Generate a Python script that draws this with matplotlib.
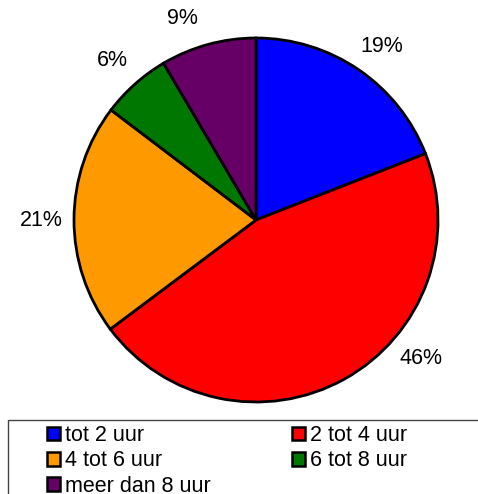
import numpy as np
import matplotlib.pyplot as plt
from matplotlib.patches import Patch, Rectangle

plt.rcParams['font.family'] = ['Liberation Sans', 'DejaVu Sans']

categories = ["tot 2 uur", "2 tot 4 uur", "4 tot 6 uur", "6 tot 8 uur", "meer dan 8 uur"]
shares = [19.1, 45.8, 20.6, 6.2, 8.5]
pct_labels = ["19%", "46%", "21%", "6%", "9%"]
colors = ["#0000FF", "#FF0000", "#FF9900", "#007700", "#660066"]
# where each percentage sits, degrees clockwise from 12 o'clock
label_angles = [36, 130, 270, 318, 340]

W, H = 478, 494
fig = plt.figure(figsize=(W / 100, H / 100), dpi=100)

# pie centre (256, 220) px from top-left, radius 182 px
cx, cy, r = 256, 220, 182
ax = fig.add_axes([(cx - r) / W, (H - cy - r) / H, 2 * r / W, 2 * r / H])
ax.pie(shares, colors=colors, startangle=90, counterclock=False,
       wedgeprops=dict(edgecolor="black", linewidth=2))
ax.set_xlim(-1, 1)
ax.set_ylim(-1, 1)
ax.set_aspect("equal")

for ang, lab in zip(label_angles, pct_labels):
    a = np.deg2rad(ang)
    ax.text(1.18 * np.sin(a), 1.18 * np.cos(a), lab, ha="center", va="center",
            fontsize=15.5, clip_on=False)

# legend frame running off the bottom/right edge
fig.patches.append(Rectangle((8 / W, -0.1), 1.0, (H - 420) / H + 0.1,
                             transform=fig.transFigure, fill=False,
                             edgecolor="#444444", linewidth=1))

# matplotlib fills legend columns first, reorder so it reads row by row
order = [0, 2, 4, 1, 3]
handles = [Patch(facecolor=colors[i], edgecolor="black", linewidth=1.8) for i in order]
fig.legend(handles, [categories[i] for i in order], loc="upper left",
           bbox_to_anchor=(47 / W, (H - 425) / H), ncol=2, frameon=False,
           fontsize=15.5, handlelength=0.6, handleheight=0.6,
           handletextpad=0.25, columnspacing=3.75, labelspacing=0.2,
           borderpad=0, borderaxespad=0)

fig.savefig("out.png", dpi=100)
